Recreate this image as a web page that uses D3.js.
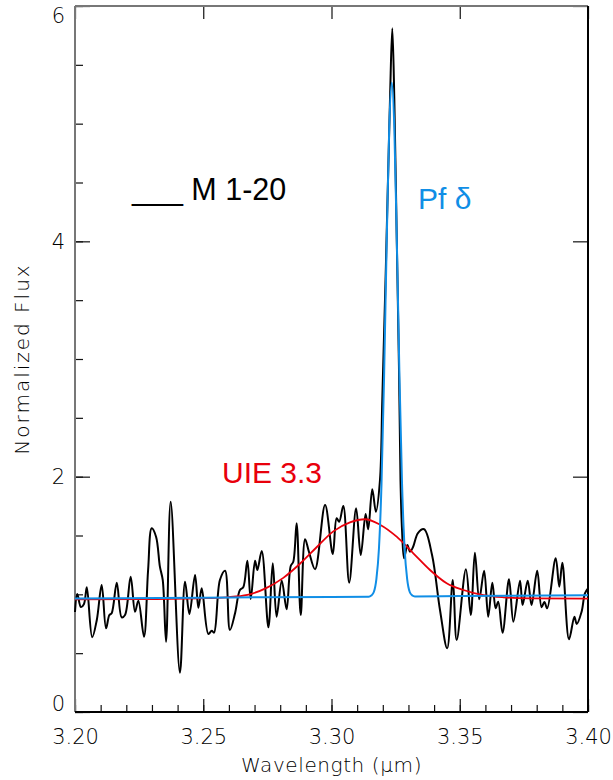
<!DOCTYPE html>
<html>
<head>
<meta charset="utf-8">
<script src="https://cdn.jsdelivr.net/npm/d3@7"></script>
<style>
  body { margin: 0; background: #fff; }
  svg { display: block; }
</style>
</head>
<body>
<svg id="chart" width="613" height="780"></svg>
<script>
// Observed M 1-20 spectrum (wavelength in micron, normalized flux)
const observedWl = [
  3.2000, 3.2009, 3.2023, 3.2035, 3.2046, 3.2067, 3.2085, 3.2104, 3.2121, 3.2134,
  3.2143, 3.2163, 3.2182, 3.2195, 3.2217, 3.2234, 3.2247, 3.2269, 3.2285, 3.2299,
  3.2316, 3.2331, 3.2342, 3.2355, 3.2373, 3.2409, 3.2429, 3.2446, 3.2468, 3.2481,
  3.2494, 3.2520, 3.2533, 3.2542, 3.2565, 3.2585, 3.2604, 3.2624, 3.2643, 3.2656,
  3.2672, 3.2685, 3.2702, 3.2711, 3.2728, 3.2754, 3.2771, 3.2786, 3.2806, 3.2825,
  3.2841, 3.2851, 3.2864, 3.2880, 3.2897, 3.2912, 3.2936, 3.2975, 3.3005, 3.3020,
  3.3030, 3.3046, 3.3069, 3.3096, 3.3114, 3.3133, 3.3143, 3.3159, 3.3173, 3.3189,
  3.3198, 3.3212, 3.3228, 3.3237, 3.3245, 3.3254, 3.3263, 3.3269, 3.3275, 3.3283,
  3.3296, 3.3306, 3.3318, 3.3337, 3.3361, 3.3392, 3.3423, 3.3451, 3.3473, 3.3488,
  3.3524, 3.3543, 3.3559, 3.3576, 3.3595, 3.3611, 3.3627, 3.3640, 3.3650, 3.3667,
  3.3692, 3.3709, 3.3735, 3.3745, 3.3765, 3.3780, 3.3802, 3.3819, 3.3830, 3.3841,
  3.3874, 3.3888, 3.3900, 3.3926, 3.3947, 3.3956, 3.3975, 3.3988, 3.4000
];
const observedFlux = [
  0.850, 1.003, 0.892, 0.918, 1.060, 0.635, 0.782, 1.079, 0.711, 0.824,
  0.839, 1.099, 0.805, 0.824, 1.150, 0.852, 0.946, 0.640, 1.207, 1.561,
  1.490, 1.235, 1.122, 0.597, 1.787, 0.334, 1.107, 0.833, 1.164, 0.886,
  1.051, 0.663, 0.691, 0.674, 1.122, 1.201, 0.697, 0.839, 1.037, 1.060,
  1.286, 0.960, 1.286, 1.207, 1.368, 0.720, 1.264, 0.810, 1.116, 0.873,
  1.241, 1.277, 1.604, 0.824, 1.468, 1.362, 1.213, 1.759, 1.343, 1.646,
  1.617, 1.751, 1.099, 1.731, 1.334, 1.683, 1.553, 1.893, 1.702, 1.972,
  2.651, 3.784, 5.201, 5.810, 5.201, 4.071, 2.934, 1.972, 1.547, 1.306,
  1.419, 1.362, 1.402, 1.521, 1.553, 1.334, 0.867, 0.541, 1.122, 0.612,
  1.213, 0.824, 1.354, 0.958, 1.201, 0.810, 1.099, 0.881, 0.937, 0.674,
  1.128, 0.767, 1.116, 0.909, 1.116, 0.909, 1.201, 0.890, 0.935, 0.881,
  1.306, 1.065, 1.269, 0.618, 0.810, 0.748, 0.852, 1.009, 1.051
];

// Pf delta line fit
const pfWl = [
  3.2000, 3.2500, 3.3000, 3.3145, 3.3155, 3.3165, 3.3175, 3.3185, 3.3195, 3.3205,
  3.3215, 3.3225, 3.3235, 3.3245, 3.3255, 3.3265, 3.3275, 3.3285, 3.3295, 3.3305,
  3.3315, 3.3325, 3.3500, 3.4000
];
const pfFlux = [
  0.965, 0.972, 0.978, 0.980, 0.990, 1.020, 1.130, 1.390, 1.940, 2.850,
  3.970, 4.960, 5.350, 4.960, 3.970, 2.850, 1.940, 1.390, 1.130, 1.020,
  0.990, 0.982, 0.985, 0.993
];

// UIE 3.3 micron band fit
const uieWl = [
  3.2000, 3.2250, 3.2487, 3.2591, 3.2672, 3.2747, 3.2812, 3.2877, 3.2942, 3.3007,
  3.3072, 3.3131, 3.3189, 3.3254, 3.3319, 3.3384, 3.3449, 3.3514, 3.3592, 3.3670,
  3.3774, 3.4000
];
const uieFlux = [
  0.958, 0.959, 0.966, 0.975, 0.995, 1.055, 1.140, 1.260, 1.400, 1.535,
  1.612, 1.638, 1.592, 1.490, 1.349, 1.207, 1.094, 1.037, 0.994, 0.975,
  0.966, 0.964
];

// Axis ticks
const xMajorTicks = [3.20, 3.25, 3.30, 3.35, 3.40];
const xTickLabels = ["3.20", "3.25", "3.30", "3.35", "3.40"];
const yMajorTicks = [0, 2, 4, 6];
const yTickLabels = ["0", "2", "4", "6"];

const svg = d3.select("#chart");
const L = 75, R = 588, T = 6, B = 712;

const x = d3.scaleLinear().domain([3.20, 3.40]).range([L, R]);
const y = d3.scaleLinear().domain([0, 6]).range([B, T]);

const xMinor = x.ticks(20);
const yMinor = y.ticks(12);

const tickFont = "'DejaVu Sans', sans-serif";

// Bottom axis: inward ticks and labels
const gb = svg.append("g").attr("transform", `translate(0,${B})`);
gb.call(d3.axisBottom(x).tickValues(xMinor).tickSize(-7).tickFormat(""));
gb.call(g => g.select(".domain").remove());
const gbm = svg.append("g").attr("transform", `translate(0,${B})`);
gbm.call(d3.axisBottom(x).tickValues(xMajorTicks).tickSize(-13).tickPadding(17)
  .tickFormat((d, i) => xTickLabels[i]));
gbm.call(g => g.select(".domain").remove());

// Top axis: ticks only
const gt = svg.append("g").attr("transform", `translate(0,${T})`);
gt.call(d3.axisTop(x).tickValues(xMinor).tickSize(-7).tickFormat(""));
gt.call(d3.axisTop(x).tickValues(xMajorTicks).tickSize(-13).tickFormat(""));
gt.selectAll(".domain").remove();

// Left axis
const gl = svg.append("g").attr("transform", `translate(${L},0)`);
gl.call(d3.axisLeft(y).tickValues(yMinor).tickSize(-8).tickFormat(""));
gl.call(g => g.select(".domain").remove());
const glm = svg.append("g").attr("transform", `translate(${L},0)`);
glm.call(d3.axisLeft(y).tickValues(yMajorTicks).tickSize(-15).tickPadding(10)
  .tickFormat((d, i) => yTickLabels[i]));
glm.call(g => g.select(".domain").remove());
// keep the end labels inside the frame height
glm.selectAll(".tick text").attr("dy", d => d === 0 ? "-0.08em" : d === 6 ? "0.8em" : "0.32em");

// Right axis: ticks only
const gr = svg.append("g").attr("transform", `translate(${R},0)`);
gr.call(d3.axisRight(y).tickValues(yMinor).tickSize(-8).tickFormat(""));
gr.call(d3.axisRight(y).tickValues(yMajorTicks).tickSize(-15).tickFormat(""));
gr.selectAll(".domain").remove();

svg.selectAll(".tick line").attr("stroke", "#111").attr("stroke-width", 1.2);
svg.selectAll(".tick text")
  .attr("font-family", tickFont)
  .attr("font-weight", 200)
  .attr("font-size", 21)
  .attr("fill", "#000");

// Frame
svg.append("line").attr("x1", L).attr("x2", L).attr("y1", T).attr("y2", B)
  .attr("stroke", "#777").attr("stroke-width", 2);
svg.append("line").attr("x1", L).attr("x2", R).attr("y1", T).attr("y2", T)
  .attr("stroke", "#777").attr("stroke-width", 2);
svg.append("line").attr("x1", R).attr("x2", R).attr("y1", T).attr("y2", B)
  .attr("stroke", "#000").attr("stroke-width", 2);
svg.append("line").attr("x1", L).attr("x2", R).attr("y1", B).attr("y2", B)
  .attr("stroke", "#000").attr("stroke-width", 2);

// Axis titles
svg.append("text")
  .attr("x", (L + R) / 2).attr("y", 772)
  .attr("text-anchor", "middle")
  .attr("font-family", tickFont).attr("font-weight", 200)
  .attr("font-size", 20).attr("letter-spacing", 0.6).attr("fill", "#000")
  .text("Wavelength (μm)");
svg.append("text")
  .attr("transform", `translate(29,${(T + B) / 2}) rotate(-90)`)
  .attr("text-anchor", "middle")
  .attr("font-family", tickFont).attr("font-weight", 200)
  .attr("font-size", 20).attr("letter-spacing", 2).attr("fill", "#000")
  .text("Normalized Flux");

// Curves
const plot = svg.append("g");
const obs = d3.zip(observedWl, observedFlux);
const pf = d3.zip(pfWl, pfFlux);
const uie = d3.zip(uieWl, uieFlux);

plot.append("path").datum(obs)
  .attr("fill", "none").attr("stroke", "#000").attr("stroke-width", 2)
  .attr("stroke-linejoin", "round")
  .attr("d", d3.line().x(d => x(d[0])).y(d => y(d[1])).curve(d3.curveCatmullRom.alpha(0.5)));

plot.append("path").datum(uie)
  .attr("fill", "none").attr("stroke", "#e8000b").attr("stroke-width", 1.8)
  .attr("d", d3.line().x(d => x(d[0])).y(d => y(d[1])).curve(d3.curveMonotoneX));

plot.append("path").datum(pf)
  .attr("fill", "none").attr("stroke", "#108ee6").attr("stroke-width", 2)
  .attr("d", d3.line().x(d => x(d[0])).y(d => y(d[1])).curve(d3.curveMonotoneX));

// Labels
const labelFont = "'Liberation Sans', Arial, Helvetica, sans-serif";
svg.append("text").attr("x", 132).attr("y", 200)
  .attr("font-family", labelFont).attr("font-size", 30.5).attr("fill", "#000")
  .text("___ M 1-20");
svg.append("text").attr("x", 418).attr("y", 209)
  .attr("font-family", labelFont).attr("font-size", 30).attr("fill", "#108ee6")
  .text("Pf δ");
svg.append("text").attr("x", 222).attr("y", 483)
  .attr("font-family", labelFont).attr("font-size", 30).attr("fill", "#e8000b")
  .text("UIE 3.3");
</script>
</body>
</html>
